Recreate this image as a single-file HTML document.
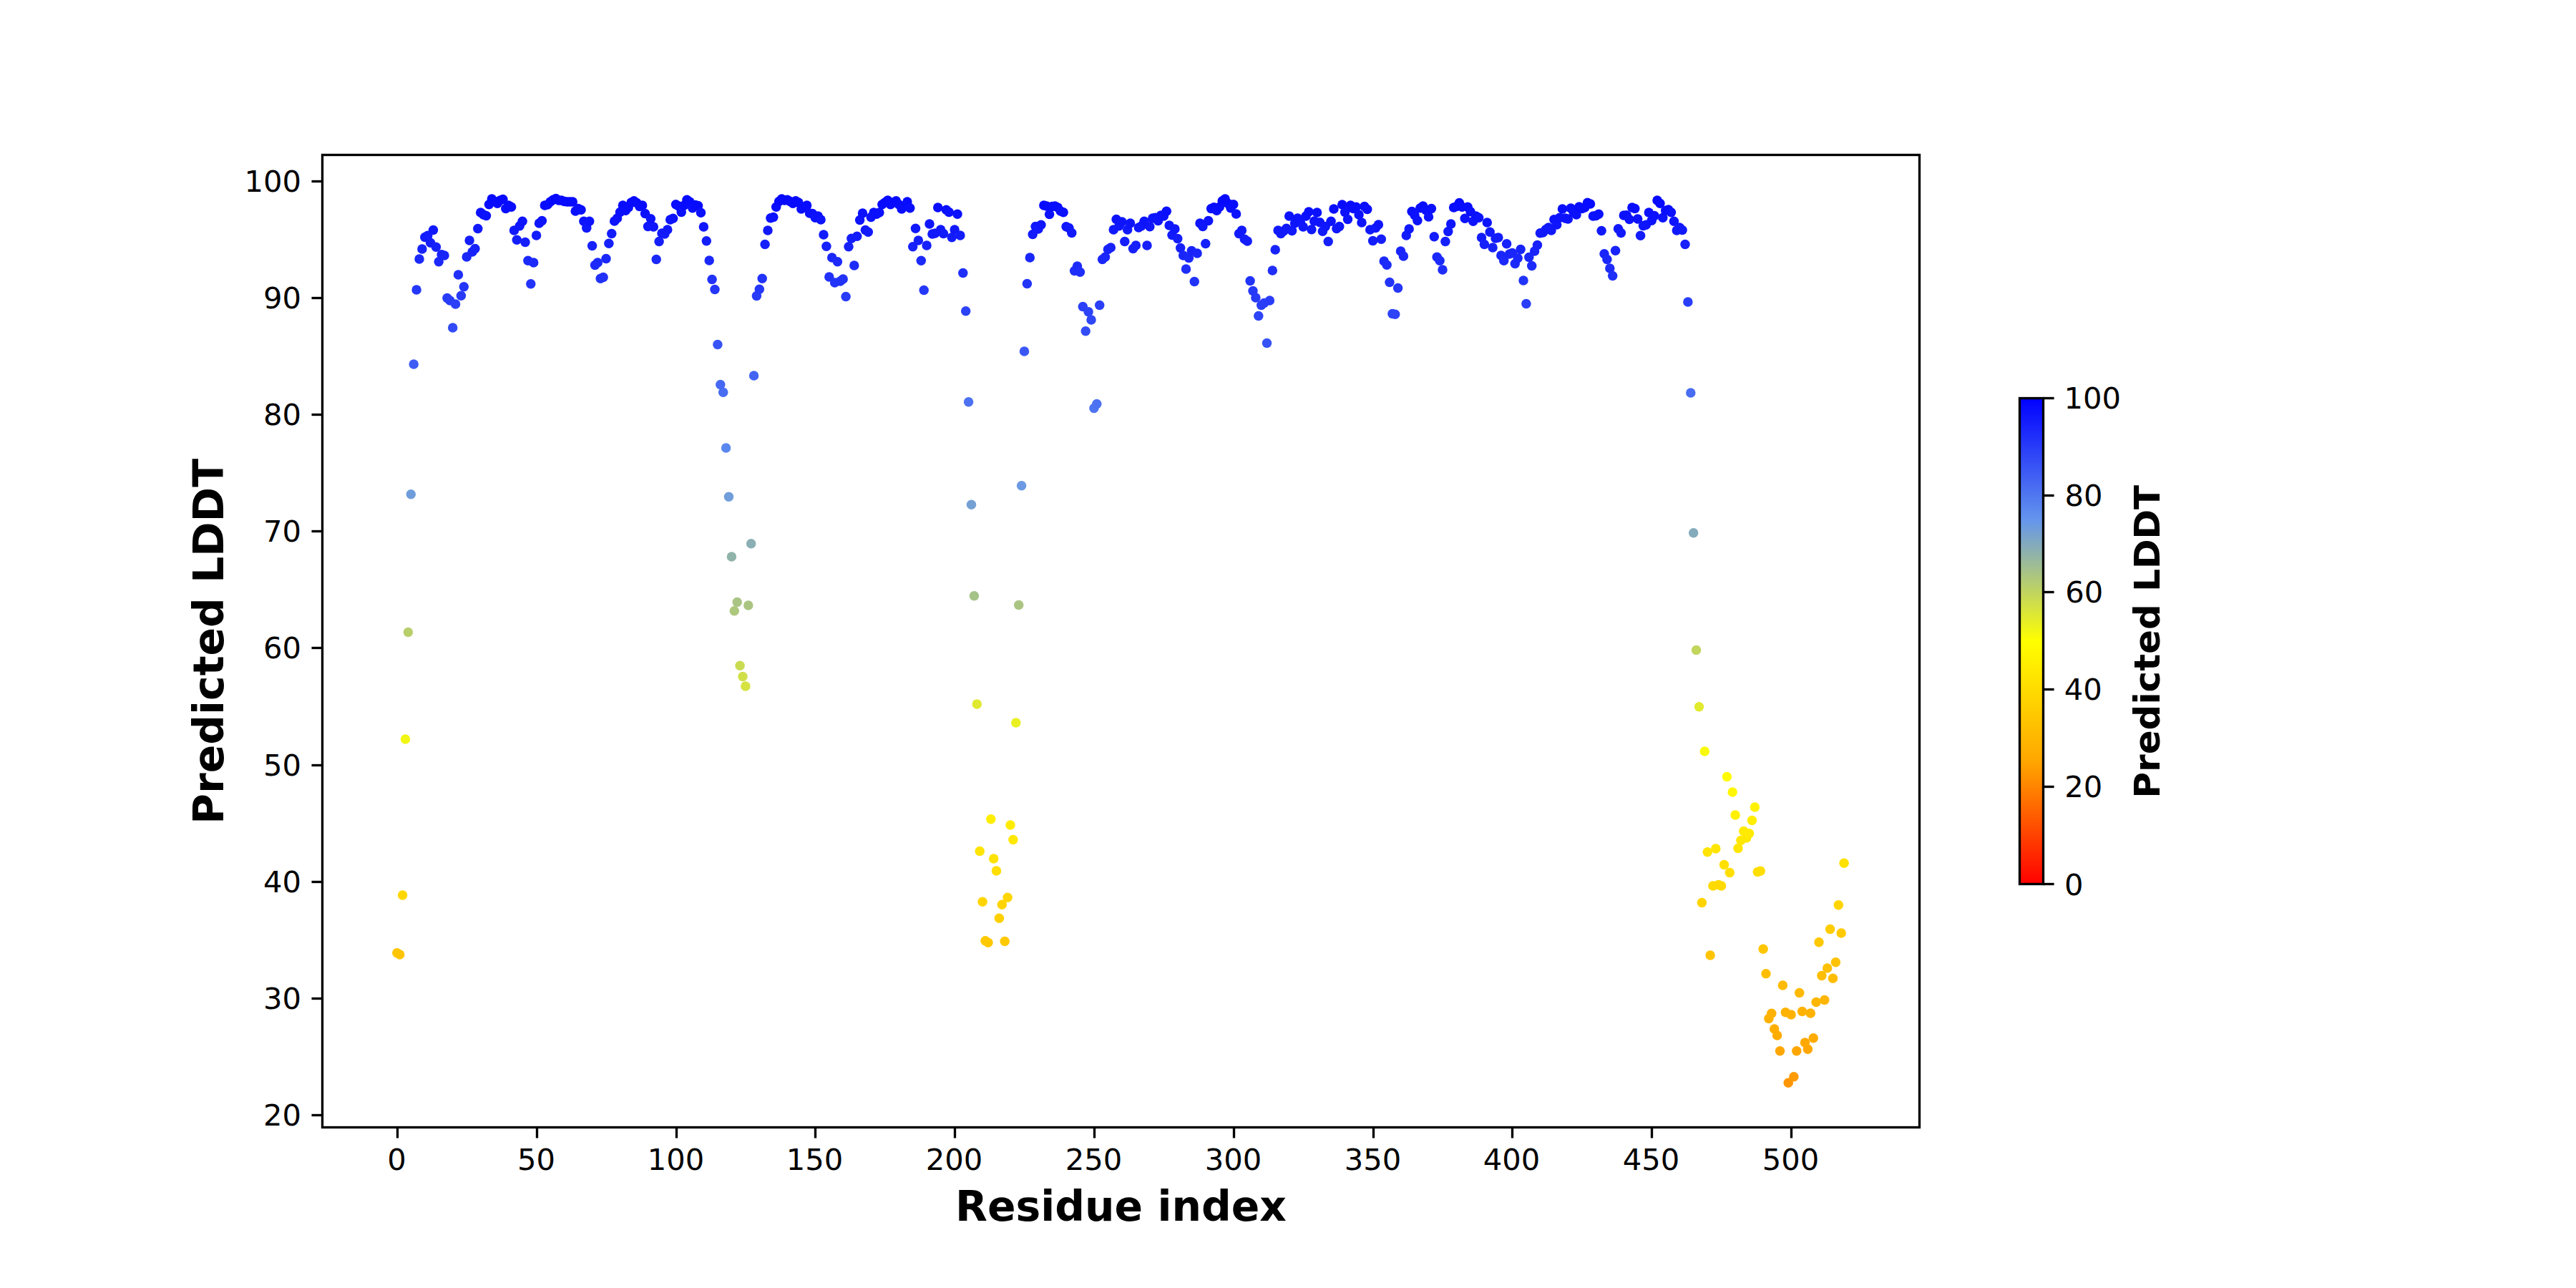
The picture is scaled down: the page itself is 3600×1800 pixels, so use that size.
<!DOCTYPE html>
<html><head><meta charset="utf-8"><title>Predicted LDDT per residue</title>
<style>
html,body{margin:0;padding:0;background:#fff;}
svg{display:block;}
text{font-family:"DejaVu Sans","Liberation Sans",sans-serif;fill:#000;}
.t{font-size:41.67px;}
.b14{font-size:58.33px;font-weight:bold;}
.b12{font-size:50px;font-weight:bold;}
</style></head><body>
<svg width="3600" height="1800" viewBox="0 0 3600 1800">
<defs><linearGradient id="cb" x1="0" y1="1" x2="0" y2="0">
<stop offset="0" stop-color="#ff0000"/><stop offset="0.25" stop-color="#ffa500"/><stop offset="0.5" stop-color="#ffff00"/><stop offset="0.75" stop-color="#6495ed"/><stop offset="1" stop-color="#0000ff"/>
</linearGradient></defs>
<rect width="3600" height="1800" fill="#fff"/>
<g><circle cx="554.8" cy="1331.7" r="6.75" fill="#ffc500"/><circle cx="558.7" cy="1333.9" r="6.75" fill="#ffc400"/><circle cx="562.6" cy="1251.1" r="6.75" fill="#ffd700"/><circle cx="566.5" cy="1032.9" r="6.75" fill="#f1f615"/><circle cx="570.4" cy="883.5" r="6.75" fill="#b9cf6c"/><circle cx="574.3" cy="690.8" r="6.75" fill="#6f9ddc"/><circle cx="578.2" cy="509.1" r="6.75" fill="#3f5df4"/><circle cx="582.1" cy="405.0" r="6.75" fill="#2537f8"/><circle cx="586.0" cy="362.1" r="6.75" fill="#1b28fa"/><circle cx="589.9" cy="347.9" r="6.75" fill="#1723fb"/><circle cx="593.8" cy="331.4" r="6.75" fill="#131dfc"/><circle cx="597.7" cy="329.3" r="6.75" fill="#131cfc"/><circle cx="601.6" cy="339.3" r="6.75" fill="#151ffb"/><circle cx="605.5" cy="321.4" r="6.75" fill="#1119fc"/><circle cx="609.4" cy="345.3" r="6.75" fill="#1722fb"/><circle cx="613.2" cy="365.7" r="6.75" fill="#1c29fa"/><circle cx="617.1" cy="355.7" r="6.75" fill="#1925fa"/><circle cx="621.0" cy="357.1" r="6.75" fill="#1926fa"/><circle cx="624.9" cy="416.4" r="6.75" fill="#283cf8"/><circle cx="628.8" cy="420.0" r="6.75" fill="#293df8"/><circle cx="632.7" cy="457.9" r="6.75" fill="#324bf6"/><circle cx="636.6" cy="425.0" r="6.75" fill="#2a3ff7"/><circle cx="640.5" cy="383.9" r="6.75" fill="#2030f9"/><circle cx="644.4" cy="413.3" r="6.75" fill="#273af8"/><circle cx="648.3" cy="400.7" r="6.75" fill="#2436f8"/><circle cx="652.2" cy="359.0" r="6.75" fill="#1a27fa"/><circle cx="656.1" cy="336.1" r="6.75" fill="#141efb"/><circle cx="660.0" cy="352.1" r="6.75" fill="#1824fb"/><circle cx="663.9" cy="347.6" r="6.75" fill="#1722fb"/><circle cx="667.8" cy="319.6" r="6.75" fill="#1018fc"/><circle cx="671.7" cy="297.1" r="6.75" fill="#0b10fd"/><circle cx="675.6" cy="300.0" r="6.75" fill="#0b11fd"/><circle cx="679.5" cy="301.4" r="6.75" fill="#0c12fd"/><circle cx="683.4" cy="285.7" r="6.75" fill="#080cfe"/><circle cx="687.3" cy="277.9" r="6.75" fill="#0609fe"/><circle cx="691.2" cy="281.4" r="6.75" fill="#070afe"/><circle cx="695.1" cy="284.3" r="6.75" fill="#080bfe"/><circle cx="699.0" cy="280.0" r="6.75" fill="#070afe"/><circle cx="702.9" cy="278.6" r="6.75" fill="#0609fe"/><circle cx="706.8" cy="291.4" r="6.75" fill="#090efd"/><circle cx="710.7" cy="287.1" r="6.75" fill="#080cfe"/><circle cx="714.6" cy="289.3" r="6.75" fill="#090dfd"/><circle cx="718.5" cy="322.1" r="6.75" fill="#1119fc"/><circle cx="722.3" cy="335.3" r="6.75" fill="#141efb"/><circle cx="726.2" cy="315.7" r="6.75" fill="#0f17fc"/><circle cx="730.1" cy="309.3" r="6.75" fill="#0e14fd"/><circle cx="734.0" cy="338.6" r="6.75" fill="#151ffb"/><circle cx="737.9" cy="364.3" r="6.75" fill="#1b29fa"/><circle cx="741.8" cy="396.7" r="6.75" fill="#2334f9"/><circle cx="745.7" cy="367.1" r="6.75" fill="#1c2afa"/><circle cx="749.6" cy="328.9" r="6.75" fill="#131cfc"/><circle cx="753.5" cy="311.9" r="6.75" fill="#0e15fc"/><circle cx="757.4" cy="308.6" r="6.75" fill="#0e14fd"/><circle cx="761.3" cy="287.1" r="6.75" fill="#080cfe"/><circle cx="765.2" cy="286.1" r="6.75" fill="#080cfe"/><circle cx="769.1" cy="282.1" r="6.75" fill="#070bfe"/><circle cx="773.0" cy="279.3" r="6.75" fill="#0609fe"/><circle cx="776.9" cy="277.6" r="6.75" fill="#0609fe"/><circle cx="780.8" cy="280.0" r="6.75" fill="#070afe"/><circle cx="784.7" cy="280.0" r="6.75" fill="#070afe"/><circle cx="788.6" cy="281.4" r="6.75" fill="#070afe"/><circle cx="792.5" cy="282.1" r="6.75" fill="#070bfe"/><circle cx="796.4" cy="282.1" r="6.75" fill="#070bfe"/><circle cx="800.3" cy="282.1" r="6.75" fill="#070bfe"/><circle cx="804.2" cy="295.0" r="6.75" fill="#0a0ffd"/><circle cx="808.1" cy="291.4" r="6.75" fill="#090efd"/><circle cx="812.0" cy="293.3" r="6.75" fill="#0a0ffd"/><circle cx="815.9" cy="309.3" r="6.75" fill="#0e14fd"/><circle cx="819.8" cy="318.6" r="6.75" fill="#1018fc"/><circle cx="823.7" cy="309.3" r="6.75" fill="#0e14fd"/><circle cx="827.6" cy="343.6" r="6.75" fill="#1621fb"/><circle cx="831.5" cy="370.4" r="6.75" fill="#1d2bfa"/><circle cx="835.3" cy="367.1" r="6.75" fill="#1c2afa"/><circle cx="839.2" cy="389.3" r="6.75" fill="#2132f9"/><circle cx="843.1" cy="387.6" r="6.75" fill="#2131f9"/><circle cx="847.0" cy="361.4" r="6.75" fill="#1a27fa"/><circle cx="850.9" cy="340.3" r="6.75" fill="#1520fb"/><circle cx="854.8" cy="326.4" r="6.75" fill="#121bfc"/><circle cx="858.7" cy="309.0" r="6.75" fill="#0e14fd"/><circle cx="862.6" cy="305.0" r="6.75" fill="#0d13fd"/><circle cx="866.5" cy="296.4" r="6.75" fill="#0b10fd"/><circle cx="870.4" cy="287.1" r="6.75" fill="#080cfe"/><circle cx="874.3" cy="294.3" r="6.75" fill="#0a0ffd"/><circle cx="878.2" cy="290.0" r="6.75" fill="#090dfd"/><circle cx="882.1" cy="282.9" r="6.75" fill="#070bfe"/><circle cx="886.0" cy="280.7" r="6.75" fill="#070afe"/><circle cx="889.9" cy="283.6" r="6.75" fill="#070bfe"/><circle cx="893.8" cy="288.6" r="6.75" fill="#090dfd"/><circle cx="897.7" cy="287.1" r="6.75" fill="#080cfe"/><circle cx="901.6" cy="298.6" r="6.75" fill="#0b11fd"/><circle cx="905.5" cy="316.4" r="6.75" fill="#0f17fc"/><circle cx="909.4" cy="305.7" r="6.75" fill="#0d13fd"/><circle cx="913.3" cy="317.1" r="6.75" fill="#1017fc"/><circle cx="917.2" cy="362.6" r="6.75" fill="#1b28fa"/><circle cx="921.1" cy="337.6" r="6.75" fill="#151ffb"/><circle cx="925.0" cy="326.0" r="6.75" fill="#121bfc"/><circle cx="928.9" cy="327.1" r="6.75" fill="#121bfc"/><circle cx="932.8" cy="321.0" r="6.75" fill="#1119fc"/><circle cx="936.7" cy="307.1" r="6.75" fill="#0d14fd"/><circle cx="940.6" cy="305.3" r="6.75" fill="#0d13fd"/><circle cx="944.5" cy="285.7" r="6.75" fill="#080cfe"/><circle cx="948.3" cy="287.9" r="6.75" fill="#080dfd"/><circle cx="952.2" cy="296.4" r="6.75" fill="#0b10fd"/><circle cx="956.1" cy="287.1" r="6.75" fill="#080cfe"/><circle cx="960.0" cy="279.3" r="6.75" fill="#0609fe"/><circle cx="963.9" cy="282.1" r="6.75" fill="#070bfe"/><circle cx="967.8" cy="290.7" r="6.75" fill="#090efd"/><circle cx="971.7" cy="286.4" r="6.75" fill="#080cfe"/><circle cx="975.6" cy="287.6" r="6.75" fill="#080cfd"/><circle cx="979.5" cy="297.3" r="6.75" fill="#0b10fd"/><circle cx="983.4" cy="316.9" r="6.75" fill="#1017fc"/><circle cx="987.3" cy="336.7" r="6.75" fill="#141efb"/><circle cx="991.2" cy="364.0" r="6.75" fill="#1b28fa"/><circle cx="995.1" cy="390.4" r="6.75" fill="#2232f9"/><circle cx="999.0" cy="404.6" r="6.75" fill="#2537f8"/><circle cx="1002.9" cy="481.6" r="6.75" fill="#3853f5"/><circle cx="1006.8" cy="537.4" r="6.75" fill="#4668f2"/><circle cx="1010.7" cy="548.3" r="6.75" fill="#486cf2"/><circle cx="1014.6" cy="625.9" r="6.75" fill="#5b88ef"/><circle cx="1018.5" cy="694.3" r="6.75" fill="#719eda"/><circle cx="1022.4" cy="777.9" r="6.75" fill="#90b3a9"/><circle cx="1026.3" cy="853.8" r="6.75" fill="#adc77d"/><circle cx="1030.2" cy="841.4" r="6.75" fill="#a9c484"/><circle cx="1034.1" cy="930.3" r="6.75" fill="#cadb51"/><circle cx="1038.0" cy="945.4" r="6.75" fill="#d0df48"/><circle cx="1041.9" cy="959.0" r="6.75" fill="#d5e240"/><circle cx="1045.8" cy="845.9" r="6.75" fill="#aac582"/><circle cx="1049.7" cy="759.8" r="6.75" fill="#8aafb4"/><circle cx="1053.6" cy="525.0" r="6.75" fill="#4363f3"/><circle cx="1057.4" cy="413.6" r="6.75" fill="#273bf8"/><circle cx="1061.3" cy="404.3" r="6.75" fill="#2537f8"/><circle cx="1065.2" cy="389.3" r="6.75" fill="#2132f9"/><circle cx="1069.1" cy="341.4" r="6.75" fill="#1620fb"/><circle cx="1073.0" cy="321.9" r="6.75" fill="#1119fc"/><circle cx="1076.9" cy="304.7" r="6.75" fill="#0d13fd"/><circle cx="1080.8" cy="303.6" r="6.75" fill="#0c12fd"/><circle cx="1084.7" cy="289.3" r="6.75" fill="#090dfd"/><circle cx="1088.6" cy="281.4" r="6.75" fill="#070afe"/><circle cx="1092.5" cy="277.9" r="6.75" fill="#0609fe"/><circle cx="1096.4" cy="280.0" r="6.75" fill="#070afe"/><circle cx="1100.3" cy="279.3" r="6.75" fill="#0609fe"/><circle cx="1104.2" cy="281.4" r="6.75" fill="#070afe"/><circle cx="1108.1" cy="284.3" r="6.75" fill="#080bfe"/><circle cx="1112.0" cy="280.7" r="6.75" fill="#070afe"/><circle cx="1115.9" cy="282.9" r="6.75" fill="#070bfe"/><circle cx="1119.8" cy="292.1" r="6.75" fill="#0a0efd"/><circle cx="1123.7" cy="290.0" r="6.75" fill="#090dfd"/><circle cx="1127.6" cy="287.1" r="6.75" fill="#080cfe"/><circle cx="1131.5" cy="297.9" r="6.75" fill="#0b10fd"/><circle cx="1135.4" cy="298.6" r="6.75" fill="#0b11fd"/><circle cx="1139.3" cy="304.3" r="6.75" fill="#0c13fd"/><circle cx="1143.2" cy="302.1" r="6.75" fill="#0c12fd"/><circle cx="1147.1" cy="307.1" r="6.75" fill="#0d14fd"/><circle cx="1151.0" cy="328.1" r="6.75" fill="#121bfc"/><circle cx="1154.9" cy="344.3" r="6.75" fill="#1621fb"/><circle cx="1158.8" cy="387.1" r="6.75" fill="#2131f9"/><circle cx="1162.7" cy="360.0" r="6.75" fill="#1a27fa"/><circle cx="1166.6" cy="395.0" r="6.75" fill="#2334f9"/><circle cx="1170.4" cy="365.7" r="6.75" fill="#1c29fa"/><circle cx="1174.3" cy="392.9" r="6.75" fill="#2233f9"/><circle cx="1178.2" cy="390.0" r="6.75" fill="#2232f9"/><circle cx="1182.1" cy="414.6" r="6.75" fill="#283bf8"/><circle cx="1186.0" cy="344.7" r="6.75" fill="#1621fb"/><circle cx="1189.9" cy="333.3" r="6.75" fill="#141dfb"/><circle cx="1193.8" cy="371.1" r="6.75" fill="#1d2bfa"/><circle cx="1197.7" cy="330.3" r="6.75" fill="#131cfc"/><circle cx="1201.6" cy="307.6" r="6.75" fill="#0d14fd"/><circle cx="1205.5" cy="297.9" r="6.75" fill="#0b10fd"/><circle cx="1209.4" cy="321.4" r="6.75" fill="#1119fc"/><circle cx="1213.3" cy="324.3" r="6.75" fill="#111afc"/><circle cx="1217.2" cy="303.6" r="6.75" fill="#0c12fd"/><circle cx="1221.1" cy="297.1" r="6.75" fill="#0b10fd"/><circle cx="1225.0" cy="299.3" r="6.75" fill="#0b11fd"/><circle cx="1228.9" cy="297.1" r="6.75" fill="#0b10fd"/><circle cx="1232.8" cy="285.7" r="6.75" fill="#080cfe"/><circle cx="1236.7" cy="282.9" r="6.75" fill="#070bfe"/><circle cx="1240.6" cy="280.0" r="6.75" fill="#070afe"/><circle cx="1244.5" cy="285.7" r="6.75" fill="#080cfe"/><circle cx="1248.4" cy="282.9" r="6.75" fill="#070bfe"/><circle cx="1252.3" cy="280.7" r="6.75" fill="#070afe"/><circle cx="1256.2" cy="285.7" r="6.75" fill="#080cfe"/><circle cx="1260.1" cy="292.1" r="6.75" fill="#0a0efd"/><circle cx="1264.0" cy="287.9" r="6.75" fill="#080dfd"/><circle cx="1267.9" cy="282.1" r="6.75" fill="#070bfe"/><circle cx="1271.8" cy="290.7" r="6.75" fill="#090efd"/><circle cx="1275.7" cy="344.7" r="6.75" fill="#1621fb"/><circle cx="1279.5" cy="319.3" r="6.75" fill="#1018fc"/><circle cx="1283.4" cy="336.1" r="6.75" fill="#141efb"/><circle cx="1287.3" cy="364.3" r="6.75" fill="#1b29fa"/><circle cx="1291.2" cy="405.4" r="6.75" fill="#2538f8"/><circle cx="1295.1" cy="342.9" r="6.75" fill="#1621fb"/><circle cx="1299.0" cy="313.1" r="6.75" fill="#0f16fc"/><circle cx="1302.9" cy="327.1" r="6.75" fill="#121bfc"/><circle cx="1306.8" cy="326.1" r="6.75" fill="#121bfc"/><circle cx="1310.7" cy="290.0" r="6.75" fill="#090dfd"/><circle cx="1314.6" cy="321.0" r="6.75" fill="#1119fc"/><circle cx="1318.5" cy="326.4" r="6.75" fill="#121bfc"/><circle cx="1322.4" cy="293.3" r="6.75" fill="#0a0ffd"/><circle cx="1326.3" cy="296.4" r="6.75" fill="#0b10fd"/><circle cx="1330.2" cy="331.7" r="6.75" fill="#131dfc"/><circle cx="1334.1" cy="321.1" r="6.75" fill="#1119fc"/><circle cx="1338.0" cy="299.3" r="6.75" fill="#0b11fd"/><circle cx="1341.9" cy="329.0" r="6.75" fill="#131cfc"/><circle cx="1345.8" cy="381.4" r="6.75" fill="#1f2ff9"/><circle cx="1349.7" cy="434.8" r="6.75" fill="#2c42f7"/><circle cx="1353.6" cy="561.7" r="6.75" fill="#4c71f1"/><circle cx="1357.5" cy="705.2" r="6.75" fill="#75a0d3"/><circle cx="1361.4" cy="832.7" r="6.75" fill="#a5c289"/><circle cx="1365.3" cy="984.1" r="6.75" fill="#dfe931"/><circle cx="1369.2" cy="1189.4" r="6.75" fill="#ffe400"/><circle cx="1373.1" cy="1260.2" r="6.75" fill="#ffd500"/><circle cx="1377.0" cy="1314.7" r="6.75" fill="#ffc900"/><circle cx="1380.9" cy="1317.3" r="6.75" fill="#ffc800"/><circle cx="1384.8" cy="1144.7" r="6.75" fill="#ffee00"/><circle cx="1388.7" cy="1199.9" r="6.75" fill="#ffe200"/><circle cx="1392.5" cy="1217.0" r="6.75" fill="#ffde00"/><circle cx="1396.4" cy="1283.2" r="6.75" fill="#ffd000"/><circle cx="1400.3" cy="1264.3" r="6.75" fill="#ffd400"/><circle cx="1404.2" cy="1315.5" r="6.75" fill="#ffc900"/><circle cx="1408.1" cy="1254.3" r="6.75" fill="#ffd600"/><circle cx="1412.0" cy="1153.1" r="6.75" fill="#ffec00"/><circle cx="1415.9" cy="1173.4" r="6.75" fill="#ffe800"/><circle cx="1419.8" cy="1010.0" r="6.75" fill="#e9f022"/><circle cx="1423.7" cy="845.5" r="6.75" fill="#aac582"/><circle cx="1427.6" cy="678.8" r="6.75" fill="#6b9ae3"/><circle cx="1431.5" cy="491.0" r="6.75" fill="#3a57f5"/><circle cx="1435.4" cy="396.4" r="6.75" fill="#2334f9"/><circle cx="1439.3" cy="360.0" r="6.75" fill="#1a27fa"/><circle cx="1443.2" cy="327.4" r="6.75" fill="#121bfc"/><circle cx="1447.1" cy="316.4" r="6.75" fill="#0f17fc"/><circle cx="1451.0" cy="320.0" r="6.75" fill="#1018fc"/><circle cx="1454.9" cy="314.3" r="6.75" fill="#0f16fc"/><circle cx="1458.8" cy="287.1" r="6.75" fill="#080cfe"/><circle cx="1462.7" cy="287.9" r="6.75" fill="#080dfd"/><circle cx="1466.6" cy="299.6" r="6.75" fill="#0b11fd"/><circle cx="1470.5" cy="288.6" r="6.75" fill="#090dfd"/><circle cx="1474.4" cy="288.1" r="6.75" fill="#090dfd"/><circle cx="1478.3" cy="290.0" r="6.75" fill="#090dfd"/><circle cx="1482.2" cy="295.0" r="6.75" fill="#0a0ffd"/><circle cx="1486.1" cy="296.7" r="6.75" fill="#0b10fd"/><circle cx="1490.0" cy="316.7" r="6.75" fill="#1017fc"/><circle cx="1493.9" cy="318.6" r="6.75" fill="#1018fc"/><circle cx="1497.8" cy="325.4" r="6.75" fill="#121afc"/><circle cx="1501.6" cy="378.6" r="6.75" fill="#1f2ef9"/><circle cx="1505.5" cy="372.1" r="6.75" fill="#1d2bfa"/><circle cx="1509.4" cy="380.3" r="6.75" fill="#1f2ef9"/><circle cx="1513.3" cy="428.6" r="6.75" fill="#2b40f7"/><circle cx="1517.2" cy="462.7" r="6.75" fill="#334cf6"/><circle cx="1521.1" cy="435.7" r="6.75" fill="#2d43f7"/><circle cx="1525.0" cy="447.0" r="6.75" fill="#2f47f6"/><circle cx="1528.9" cy="570.5" r="6.75" fill="#4e74f1"/><circle cx="1532.8" cy="564.6" r="6.75" fill="#4c72f1"/><circle cx="1536.7" cy="426.4" r="6.75" fill="#2a3ff7"/><circle cx="1540.6" cy="362.4" r="6.75" fill="#1b28fa"/><circle cx="1544.5" cy="359.3" r="6.75" fill="#1a27fa"/><circle cx="1548.4" cy="348.6" r="6.75" fill="#1723fb"/><circle cx="1552.3" cy="346.0" r="6.75" fill="#1722fb"/><circle cx="1556.2" cy="321.0" r="6.75" fill="#1119fc"/><circle cx="1560.1" cy="306.4" r="6.75" fill="#0d13fd"/><circle cx="1564.0" cy="315.7" r="6.75" fill="#0f17fc"/><circle cx="1567.9" cy="310.0" r="6.75" fill="#0e15fd"/><circle cx="1571.8" cy="337.4" r="6.75" fill="#151ffb"/><circle cx="1575.7" cy="321.0" r="6.75" fill="#1119fc"/><circle cx="1579.6" cy="312.1" r="6.75" fill="#0e15fc"/><circle cx="1583.5" cy="347.6" r="6.75" fill="#1722fb"/><circle cx="1587.4" cy="342.9" r="6.75" fill="#1621fb"/><circle cx="1591.3" cy="317.9" r="6.75" fill="#1018fc"/><circle cx="1595.2" cy="315.7" r="6.75" fill="#0f17fc"/><circle cx="1599.1" cy="309.3" r="6.75" fill="#0e14fd"/><circle cx="1603.0" cy="342.9" r="6.75" fill="#1621fb"/><circle cx="1606.9" cy="316.7" r="6.75" fill="#1017fc"/><circle cx="1610.8" cy="305.0" r="6.75" fill="#0d13fd"/><circle cx="1614.6" cy="304.3" r="6.75" fill="#0c13fd"/><circle cx="1618.5" cy="308.6" r="6.75" fill="#0e14fd"/><circle cx="1622.4" cy="301.0" r="6.75" fill="#0c11fd"/><circle cx="1626.3" cy="302.1" r="6.75" fill="#0c12fd"/><circle cx="1630.2" cy="295.3" r="6.75" fill="#0a0ffd"/><circle cx="1634.1" cy="315.0" r="6.75" fill="#0f17fc"/><circle cx="1638.0" cy="328.6" r="6.75" fill="#121bfc"/><circle cx="1641.9" cy="320.0" r="6.75" fill="#1018fc"/><circle cx="1645.8" cy="333.6" r="6.75" fill="#141dfb"/><circle cx="1649.7" cy="346.4" r="6.75" fill="#1722fb"/><circle cx="1653.6" cy="357.1" r="6.75" fill="#1926fa"/><circle cx="1657.5" cy="376.1" r="6.75" fill="#1e2dfa"/><circle cx="1661.4" cy="360.4" r="6.75" fill="#1a27fa"/><circle cx="1665.3" cy="350.4" r="6.75" fill="#1823fb"/><circle cx="1669.2" cy="393.6" r="6.75" fill="#2233f9"/><circle cx="1673.1" cy="354.0" r="6.75" fill="#1925fb"/><circle cx="1677.0" cy="312.1" r="6.75" fill="#0e15fc"/><circle cx="1680.9" cy="316.4" r="6.75" fill="#0f17fc"/><circle cx="1684.8" cy="340.4" r="6.75" fill="#1520fb"/><circle cx="1688.7" cy="308.6" r="6.75" fill="#0e14fd"/><circle cx="1692.6" cy="291.4" r="6.75" fill="#090efd"/><circle cx="1696.5" cy="289.7" r="6.75" fill="#090dfd"/><circle cx="1700.4" cy="294.3" r="6.75" fill="#0a0ffd"/><circle cx="1704.3" cy="289.3" r="6.75" fill="#090dfd"/><circle cx="1708.2" cy="280.7" r="6.75" fill="#070afe"/><circle cx="1712.1" cy="277.9" r="6.75" fill="#0609fe"/><circle cx="1716.0" cy="284.3" r="6.75" fill="#080bfe"/><circle cx="1719.9" cy="290.7" r="6.75" fill="#090efd"/><circle cx="1723.8" cy="285.7" r="6.75" fill="#080cfe"/><circle cx="1727.6" cy="299.0" r="6.75" fill="#0b11fd"/><circle cx="1731.5" cy="326.4" r="6.75" fill="#121bfc"/><circle cx="1735.4" cy="322.1" r="6.75" fill="#1119fc"/><circle cx="1739.3" cy="334.3" r="6.75" fill="#141efb"/><circle cx="1743.2" cy="336.9" r="6.75" fill="#141efb"/><circle cx="1747.1" cy="392.6" r="6.75" fill="#2233f9"/><circle cx="1751.0" cy="406.4" r="6.75" fill="#2638f8"/><circle cx="1754.9" cy="416.1" r="6.75" fill="#283bf8"/><circle cx="1758.8" cy="441.6" r="6.75" fill="#2e45f7"/><circle cx="1762.7" cy="426.4" r="6.75" fill="#2a3ff7"/><circle cx="1766.6" cy="423.6" r="6.75" fill="#2a3ef7"/><circle cx="1770.5" cy="479.5" r="6.75" fill="#3753f5"/><circle cx="1774.4" cy="420.0" r="6.75" fill="#293df8"/><circle cx="1778.3" cy="378.1" r="6.75" fill="#1f2ef9"/><circle cx="1782.2" cy="348.9" r="6.75" fill="#1723fb"/><circle cx="1786.1" cy="321.9" r="6.75" fill="#1119fc"/><circle cx="1790.0" cy="326.4" r="6.75" fill="#121bfc"/><circle cx="1793.9" cy="322.9" r="6.75" fill="#1119fc"/><circle cx="1797.8" cy="319.3" r="6.75" fill="#1018fc"/><circle cx="1801.7" cy="302.1" r="6.75" fill="#0c12fd"/><circle cx="1805.6" cy="322.4" r="6.75" fill="#1119fc"/><circle cx="1809.5" cy="312.1" r="6.75" fill="#0e15fc"/><circle cx="1813.4" cy="305.0" r="6.75" fill="#0d13fd"/><circle cx="1817.3" cy="310.0" r="6.75" fill="#0e15fd"/><circle cx="1821.2" cy="317.1" r="6.75" fill="#1017fc"/><circle cx="1825.1" cy="302.1" r="6.75" fill="#0c12fd"/><circle cx="1829.0" cy="296.0" r="6.75" fill="#0a10fd"/><circle cx="1832.9" cy="320.7" r="6.75" fill="#1119fc"/><circle cx="1836.7" cy="309.0" r="6.75" fill="#0e14fd"/><circle cx="1840.6" cy="296.9" r="6.75" fill="#0b10fd"/><circle cx="1844.5" cy="310.7" r="6.75" fill="#0e15fc"/><circle cx="1848.4" cy="323.3" r="6.75" fill="#111afc"/><circle cx="1852.3" cy="316.4" r="6.75" fill="#0f17fc"/><circle cx="1856.2" cy="337.4" r="6.75" fill="#151ffb"/><circle cx="1860.1" cy="309.3" r="6.75" fill="#0e14fd"/><circle cx="1864.0" cy="291.9" r="6.75" fill="#090efd"/><circle cx="1867.9" cy="319.6" r="6.75" fill="#1018fc"/><circle cx="1871.8" cy="316.4" r="6.75" fill="#0f17fc"/><circle cx="1875.7" cy="286.1" r="6.75" fill="#080cfe"/><circle cx="1879.6" cy="296.4" r="6.75" fill="#0b10fd"/><circle cx="1883.5" cy="306.4" r="6.75" fill="#0d13fd"/><circle cx="1887.4" cy="287.1" r="6.75" fill="#080cfe"/><circle cx="1891.3" cy="291.4" r="6.75" fill="#090efd"/><circle cx="1895.2" cy="289.3" r="6.75" fill="#090dfd"/><circle cx="1899.1" cy="300.0" r="6.75" fill="#0b11fd"/><circle cx="1903.0" cy="311.0" r="6.75" fill="#0e15fc"/><circle cx="1906.9" cy="288.6" r="6.75" fill="#090dfd"/><circle cx="1910.8" cy="292.4" r="6.75" fill="#0a0efd"/><circle cx="1914.7" cy="321.0" r="6.75" fill="#1119fc"/><circle cx="1918.6" cy="336.4" r="6.75" fill="#141efb"/><circle cx="1922.5" cy="318.6" r="6.75" fill="#1018fc"/><circle cx="1926.4" cy="313.9" r="6.75" fill="#0f16fc"/><circle cx="1930.3" cy="334.3" r="6.75" fill="#141efb"/><circle cx="1934.2" cy="365.0" r="6.75" fill="#1b29fa"/><circle cx="1938.1" cy="370.3" r="6.75" fill="#1d2bfa"/><circle cx="1942.0" cy="394.6" r="6.75" fill="#2334f9"/><circle cx="1945.9" cy="438.6" r="6.75" fill="#2d44f7"/><circle cx="1949.7" cy="439.3" r="6.75" fill="#2e44f7"/><circle cx="1953.6" cy="402.6" r="6.75" fill="#2537f8"/><circle cx="1957.5" cy="351.1" r="6.75" fill="#1824fb"/><circle cx="1961.4" cy="357.9" r="6.75" fill="#1a26fa"/><circle cx="1965.3" cy="329.0" r="6.75" fill="#131cfc"/><circle cx="1969.2" cy="320.0" r="6.75" fill="#1018fc"/><circle cx="1973.1" cy="295.4" r="6.75" fill="#0a0ffd"/><circle cx="1977.0" cy="300.7" r="6.75" fill="#0c11fd"/><circle cx="1980.9" cy="308.3" r="6.75" fill="#0d14fd"/><circle cx="1984.8" cy="290.7" r="6.75" fill="#090efd"/><circle cx="1988.7" cy="287.9" r="6.75" fill="#080dfd"/><circle cx="1992.6" cy="293.6" r="6.75" fill="#0a0ffd"/><circle cx="1996.5" cy="302.9" r="6.75" fill="#0c12fd"/><circle cx="2000.4" cy="291.4" r="6.75" fill="#090efd"/><circle cx="2004.3" cy="330.7" r="6.75" fill="#131cfc"/><circle cx="2008.2" cy="359.3" r="6.75" fill="#1a27fa"/><circle cx="2012.1" cy="364.3" r="6.75" fill="#1b29fa"/><circle cx="2016.0" cy="377.1" r="6.75" fill="#1e2dfa"/><circle cx="2019.9" cy="337.6" r="6.75" fill="#151ffb"/><circle cx="2023.8" cy="323.6" r="6.75" fill="#111afc"/><circle cx="2027.7" cy="312.9" r="6.75" fill="#0f16fc"/><circle cx="2031.6" cy="290.0" r="6.75" fill="#090dfd"/><circle cx="2035.5" cy="288.6" r="6.75" fill="#090dfd"/><circle cx="2039.4" cy="283.6" r="6.75" fill="#070bfe"/><circle cx="2043.3" cy="289.3" r="6.75" fill="#090dfd"/><circle cx="2047.2" cy="305.3" r="6.75" fill="#0d13fd"/><circle cx="2051.1" cy="289.3" r="6.75" fill="#090dfd"/><circle cx="2055.0" cy="295.7" r="6.75" fill="#0a0ffd"/><circle cx="2058.8" cy="309.3" r="6.75" fill="#0e14fd"/><circle cx="2062.7" cy="302.1" r="6.75" fill="#0c12fd"/><circle cx="2066.6" cy="304.3" r="6.75" fill="#0c13fd"/><circle cx="2070.5" cy="332.1" r="6.75" fill="#131dfc"/><circle cx="2074.4" cy="341.4" r="6.75" fill="#1620fb"/><circle cx="2078.3" cy="311.1" r="6.75" fill="#0e15fc"/><circle cx="2082.2" cy="324.3" r="6.75" fill="#111afc"/><circle cx="2086.1" cy="346.0" r="6.75" fill="#1722fb"/><circle cx="2090.0" cy="332.9" r="6.75" fill="#131dfb"/><circle cx="2093.9" cy="332.1" r="6.75" fill="#131dfc"/><circle cx="2097.8" cy="357.1" r="6.75" fill="#1926fa"/><circle cx="2101.7" cy="364.3" r="6.75" fill="#1b29fa"/><circle cx="2105.6" cy="340.7" r="6.75" fill="#1520fb"/><circle cx="2109.5" cy="355.0" r="6.75" fill="#1925fb"/><circle cx="2113.4" cy="353.6" r="6.75" fill="#1925fb"/><circle cx="2117.3" cy="368.6" r="6.75" fill="#1c2afa"/><circle cx="2121.2" cy="360.7" r="6.75" fill="#1a27fa"/><circle cx="2125.1" cy="348.6" r="6.75" fill="#1723fb"/><circle cx="2129.0" cy="392.1" r="6.75" fill="#2233f9"/><circle cx="2132.9" cy="424.6" r="6.75" fill="#2a3ff7"/><circle cx="2136.8" cy="359.6" r="6.75" fill="#1a27fa"/><circle cx="2140.7" cy="371.4" r="6.75" fill="#1d2bfa"/><circle cx="2144.6" cy="351.1" r="6.75" fill="#1824fb"/><circle cx="2148.5" cy="342.6" r="6.75" fill="#1621fb"/><circle cx="2152.4" cy="325.7" r="6.75" fill="#121afc"/><circle cx="2156.3" cy="325.0" r="6.75" fill="#121afc"/><circle cx="2160.2" cy="320.7" r="6.75" fill="#1119fc"/><circle cx="2164.1" cy="317.9" r="6.75" fill="#1018fc"/><circle cx="2168.0" cy="321.9" r="6.75" fill="#1119fc"/><circle cx="2171.8" cy="306.7" r="6.75" fill="#0d13fd"/><circle cx="2175.7" cy="313.9" r="6.75" fill="#0f16fc"/><circle cx="2179.6" cy="304.3" r="6.75" fill="#0c13fd"/><circle cx="2183.5" cy="291.9" r="6.75" fill="#090efd"/><circle cx="2187.4" cy="305.0" r="6.75" fill="#0d13fd"/><circle cx="2191.3" cy="306.1" r="6.75" fill="#0d13fd"/><circle cx="2195.2" cy="291.1" r="6.75" fill="#090efd"/><circle cx="2199.1" cy="296.4" r="6.75" fill="#0b10fd"/><circle cx="2203.0" cy="300.0" r="6.75" fill="#0b11fd"/><circle cx="2206.9" cy="289.0" r="6.75" fill="#090dfd"/><circle cx="2210.8" cy="291.4" r="6.75" fill="#090efd"/><circle cx="2214.7" cy="290.0" r="6.75" fill="#090dfd"/><circle cx="2218.6" cy="283.3" r="6.75" fill="#070bfe"/><circle cx="2222.5" cy="285.0" r="6.75" fill="#080cfe"/><circle cx="2226.4" cy="301.9" r="6.75" fill="#0c12fd"/><circle cx="2230.3" cy="301.4" r="6.75" fill="#0c12fd"/><circle cx="2234.2" cy="299.3" r="6.75" fill="#0b11fd"/><circle cx="2238.1" cy="322.4" r="6.75" fill="#1119fc"/><circle cx="2242.0" cy="354.7" r="6.75" fill="#1925fb"/><circle cx="2245.9" cy="362.6" r="6.75" fill="#1b28fa"/><circle cx="2249.8" cy="375.0" r="6.75" fill="#1e2cfa"/><circle cx="2253.7" cy="385.4" r="6.75" fill="#2030f9"/><circle cx="2257.6" cy="350.3" r="6.75" fill="#1823fb"/><circle cx="2261.5" cy="319.7" r="6.75" fill="#1018fc"/><circle cx="2265.4" cy="325.4" r="6.75" fill="#121afc"/><circle cx="2269.3" cy="301.1" r="6.75" fill="#0c11fd"/><circle cx="2273.2" cy="300.7" r="6.75" fill="#0c11fd"/><circle cx="2277.1" cy="306.4" r="6.75" fill="#0d13fd"/><circle cx="2280.9" cy="290.0" r="6.75" fill="#090dfd"/><circle cx="2284.8" cy="291.4" r="6.75" fill="#090efd"/><circle cx="2288.7" cy="306.0" r="6.75" fill="#0d13fd"/><circle cx="2292.6" cy="329.3" r="6.75" fill="#131cfc"/><circle cx="2296.5" cy="315.4" r="6.75" fill="#0f17fc"/><circle cx="2300.4" cy="314.3" r="6.75" fill="#0f16fc"/><circle cx="2304.3" cy="296.9" r="6.75" fill="#0b10fd"/><circle cx="2308.2" cy="308.3" r="6.75" fill="#0d14fd"/><circle cx="2312.1" cy="301.4" r="6.75" fill="#0c12fd"/><circle cx="2316.0" cy="280.0" r="6.75" fill="#070afe"/><circle cx="2319.9" cy="284.3" r="6.75" fill="#080bfe"/><circle cx="2323.8" cy="304.3" r="6.75" fill="#0c13fd"/><circle cx="2327.7" cy="294.3" r="6.75" fill="#0a0ffd"/><circle cx="2331.6" cy="292.9" r="6.75" fill="#0a0efd"/><circle cx="2335.5" cy="296.7" r="6.75" fill="#0b10fd"/><circle cx="2339.4" cy="309.3" r="6.75" fill="#0e14fd"/><circle cx="2343.3" cy="322.1" r="6.75" fill="#1119fc"/><circle cx="2347.2" cy="317.9" r="6.75" fill="#1018fc"/><circle cx="2351.1" cy="321.4" r="6.75" fill="#1119fc"/><circle cx="2355.0" cy="341.4" r="6.75" fill="#1620fb"/><circle cx="2358.9" cy="421.9" r="6.75" fill="#293ef8"/><circle cx="2362.8" cy="548.9" r="6.75" fill="#486cf2"/><circle cx="2366.7" cy="744.8" r="6.75" fill="#84abbc"/><circle cx="2370.6" cy="908.6" r="6.75" fill="#c2d55d"/><circle cx="2374.5" cy="987.7" r="6.75" fill="#e0ea2f"/><circle cx="2378.4" cy="1261.5" r="6.75" fill="#ffd400"/><circle cx="2382.3" cy="1050.1" r="6.75" fill="#f8fa0b"/><circle cx="2386.2" cy="1190.7" r="6.75" fill="#ffe400"/><circle cx="2390.1" cy="1334.9" r="6.75" fill="#ffc400"/><circle cx="2393.9" cy="1237.9" r="6.75" fill="#ffda00"/><circle cx="2397.8" cy="1186.0" r="6.75" fill="#ffe500"/><circle cx="2401.7" cy="1236.6" r="6.75" fill="#ffda00"/><circle cx="2405.6" cy="1237.9" r="6.75" fill="#ffda00"/><circle cx="2409.5" cy="1208.4" r="6.75" fill="#ffe000"/><circle cx="2413.4" cy="1085.5" r="6.75" fill="#fffb00"/><circle cx="2417.3" cy="1219.4" r="6.75" fill="#ffde00"/><circle cx="2421.2" cy="1107.1" r="6.75" fill="#fff700"/><circle cx="2425.1" cy="1138.9" r="6.75" fill="#fff000"/><circle cx="2429.0" cy="1185.4" r="6.75" fill="#ffe500"/><circle cx="2432.9" cy="1174.4" r="6.75" fill="#ffe800"/><circle cx="2436.8" cy="1161.4" r="6.75" fill="#ffeb00"/><circle cx="2440.7" cy="1171.0" r="6.75" fill="#ffe800"/><circle cx="2444.6" cy="1164.8" r="6.75" fill="#ffea00"/><circle cx="2448.5" cy="1146.4" r="6.75" fill="#ffee00"/><circle cx="2452.4" cy="1128.1" r="6.75" fill="#fff200"/><circle cx="2456.3" cy="1218.5" r="6.75" fill="#ffde00"/><circle cx="2460.2" cy="1217.3" r="6.75" fill="#ffde00"/><circle cx="2464.1" cy="1326.3" r="6.75" fill="#ffc600"/><circle cx="2468.0" cy="1360.7" r="6.75" fill="#ffbf00"/><circle cx="2471.9" cy="1423.6" r="6.75" fill="#ffb100"/><circle cx="2475.8" cy="1416.3" r="6.75" fill="#ffb200"/><circle cx="2479.7" cy="1438.0" r="6.75" fill="#ffae00"/><circle cx="2483.6" cy="1447.0" r="6.75" fill="#ffac00"/><circle cx="2487.5" cy="1468.7" r="6.75" fill="#ffa700"/><circle cx="2491.4" cy="1377.0" r="6.75" fill="#ffbb00"/><circle cx="2495.3" cy="1414.7" r="6.75" fill="#ffb300"/><circle cx="2499.2" cy="1513.2" r="6.75" fill="#ff9600"/><circle cx="2503.1" cy="1418.1" r="6.75" fill="#ffb200"/><circle cx="2506.9" cy="1504.7" r="6.75" fill="#ff9a00"/><circle cx="2510.8" cy="1468.7" r="6.75" fill="#ffa700"/><circle cx="2514.7" cy="1387.4" r="6.75" fill="#ffb900"/><circle cx="2518.6" cy="1413.4" r="6.75" fill="#ffb300"/><circle cx="2522.5" cy="1457.1" r="6.75" fill="#ffa900"/><circle cx="2526.4" cy="1466.2" r="6.75" fill="#ffa700"/><circle cx="2530.3" cy="1416.0" r="6.75" fill="#ffb200"/><circle cx="2534.2" cy="1450.7" r="6.75" fill="#ffab00"/><circle cx="2538.1" cy="1400.6" r="6.75" fill="#ffb600"/><circle cx="2542.0" cy="1316.8" r="6.75" fill="#ffc800"/><circle cx="2545.9" cy="1363.6" r="6.75" fill="#ffbe00"/><circle cx="2549.8" cy="1397.5" r="6.75" fill="#ffb600"/><circle cx="2553.7" cy="1352.9" r="6.75" fill="#ffc000"/><circle cx="2557.6" cy="1298.4" r="6.75" fill="#ffcc00"/><circle cx="2561.5" cy="1367.2" r="6.75" fill="#ffbd00"/><circle cx="2565.4" cy="1344.7" r="6.75" fill="#ffc200"/><circle cx="2569.3" cy="1264.8" r="6.75" fill="#ffd400"/><circle cx="2573.2" cy="1304.1" r="6.75" fill="#ffcb00"/><circle cx="2577.1" cy="1206.2" r="6.75" fill="#ffe100"/></g>
<rect x="450.5" y="216.5" width="2232.0" height="1359.0" fill="none" stroke="#000" stroke-width="3.33"/>
<g stroke="#000" stroke-width="3.33"><line x1="555.5" y1="1575.5" x2="555.5" y2="1590.5"/><line x1="750.5" y1="1575.5" x2="750.5" y2="1590.5"/><line x1="945.5" y1="1575.5" x2="945.5" y2="1590.5"/><line x1="1139.5" y1="1575.5" x2="1139.5" y2="1590.5"/><line x1="1334.5" y1="1575.5" x2="1334.5" y2="1590.5"/><line x1="1529.5" y1="1575.5" x2="1529.5" y2="1590.5"/><line x1="1724.5" y1="1575.5" x2="1724.5" y2="1590.5"/><line x1="1919.5" y1="1575.5" x2="1919.5" y2="1590.5"/><line x1="2113.5" y1="1575.5" x2="2113.5" y2="1590.5"/><line x1="2308.5" y1="1575.5" x2="2308.5" y2="1590.5"/><line x1="2503.5" y1="1575.5" x2="2503.5" y2="1590.5"/><line x1="435.5" y1="1558.5" x2="450.5" y2="1558.5"/><line x1="435.5" y1="1395.5" x2="450.5" y2="1395.5"/><line x1="435.5" y1="1232.5" x2="450.5" y2="1232.5"/><line x1="435.5" y1="1069.5" x2="450.5" y2="1069.5"/><line x1="435.5" y1="905.5" x2="450.5" y2="905.5"/><line x1="435.5" y1="742.5" x2="450.5" y2="742.5"/><line x1="435.5" y1="579.5" x2="450.5" y2="579.5"/><line x1="435.5" y1="416.5" x2="450.5" y2="416.5"/><line x1="435.5" y1="253.5" x2="450.5" y2="253.5"/></g>
<g class="t" text-anchor="middle"><text x="554.6" y="1635.0">0</text><text x="749.6" y="1635.0">50</text><text x="944.6" y="1635.0">100</text><text x="1138.6" y="1635.0">150</text><text x="1333.6" y="1635.0">200</text><text x="1528.6" y="1635.0">250</text><text x="1723.6" y="1635.0">300</text><text x="1918.6" y="1635.0">350</text><text x="2112.6" y="1635.0">400</text><text x="2307.6" y="1635.0">450</text><text x="2502.6" y="1635.0">500</text></g>
<g class="t" text-anchor="end"><text x="421.0" y="1572.7">20</text><text x="421.0" y="1409.7">30</text><text x="421.0" y="1246.7">40</text><text x="421.0" y="1083.7">50</text><text x="421.0" y="919.7">60</text><text x="421.0" y="756.7">70</text><text x="421.0" y="593.7">80</text><text x="421.0" y="430.7">90</text><text x="421.0" y="267.7">100</text></g>
<text class="b14" text-anchor="middle" x="1566.5" y="1705.7">Residue index</text>
<text class="b14" text-anchor="middle" transform="translate(312.0,896.4) rotate(-90)">Predicted LDDT</text>
<rect x="2822.5" y="556.5" width="33.0" height="679.0" fill="url(#cb)" stroke="#000" stroke-width="3.33"/>
<g stroke="#000" stroke-width="3.33"><line x1="2855.5" y1="1235.5" x2="2870.6" y2="1235.5"/><line x1="2855.5" y1="1099.5" x2="2870.6" y2="1099.5"/><line x1="2855.5" y1="963.5" x2="2870.6" y2="963.5"/><line x1="2855.5" y1="827.5" x2="2870.6" y2="827.5"/><line x1="2855.5" y1="692.5" x2="2870.6" y2="692.5"/><line x1="2855.5" y1="556.5" x2="2870.6" y2="556.5"/></g>
<g class="t"><text x="2884.9" y="1250.5">0</text><text x="2885.2" y="1114.3">20</text><text x="2884.7" y="978.1">40</text><text x="2886.2" y="842.0">60</text><text x="2885.6" y="707.0">80</text><text x="2884.4" y="570.7">100</text></g>
<text class="b12" text-anchor="middle" transform="translate(3017.9,896.7) rotate(-90)">Predicted LDDT</text>
</svg></body></html>
